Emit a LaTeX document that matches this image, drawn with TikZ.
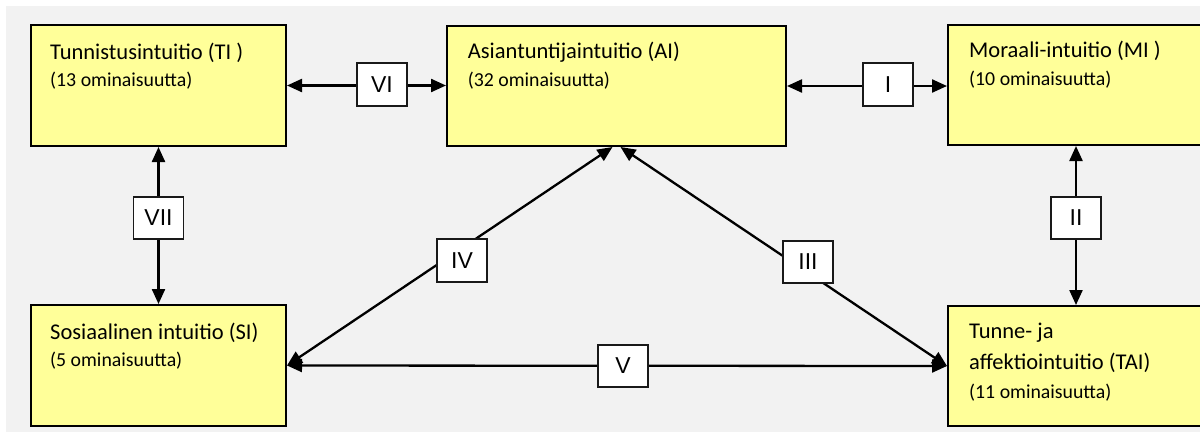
\documentclass[tikz,border=0pt]{standalone}
\usepackage{fontspec}
\setmainfont{Carlito}
\newfontfamily\lblfont{Liberation Sans}
\usetikzlibrary{arrows.meta,calc}
\definecolor{bggray}{HTML}{F2F2F2}
\definecolor{boxyellow}{HTML}{FFFF99}
\begin{document}
\begin{tikzpicture}[x=1pt,y=-1pt,
  ybox/.style={draw=black, fill=boxyellow, line width=2pt, rectangle, inner sep=0pt},
  ttl/.style={anchor=base west, inner sep=0pt, font=\fontsize{22.5}{27}\selectfont},
  sub/.style={anchor=base west, inner sep=0pt, font=\fontsize{19.8}{24}\selectfont},
  lbl/.style={draw=black!90, fill=white, line width=1.6pt, rectangle, inner sep=0pt,
    minimum width=50pt, minimum height=42.5pt, font=\lblfont\fontsize{23}{26}\selectfont},
  conn/.style={line width=2.3pt, {Triangle[length=15pt,width=13pt]}-{Triangle[length=15pt,width=13pt]}}
]
\useasboundingbox (0,0) rectangle (1200,432);
\clip (0,0) rectangle (1200,432);
\fill[bggray] (6,6) rectangle (1200,432);

% main boxes
\node[ybox, minimum width=255pt, minimum height=121pt] (TI) at (158.5,85.5) {};
\node[ybox, minimum width=339pt, minimum height=120pt] (AI) at (616.5,86) {};
\node[ybox, minimum width=267pt, minimum height=120pt] (MI) at (1081.5,85) {};
\node[ybox, minimum width=255pt, minimum height=121pt] (SI) at (158.5,365.5) {};
\node[ybox, minimum width=267pt, minimum height=120pt] (TAI) at (1081.5,366) {};

% texts
\node[ttl] (TIa) at (50,59.3) {Tunnistusintuitio (TI )};
\node[sub] (TIb) at (50,86.5) {(13 ominaisuutta)};
\node[ttl] (AIa) at (467.7,58.3) {Asiantuntijaintuitio (AI)};
\node[sub] (AIb) at (467.7,86.5) {(32 ominaisuutta)};
\node[ttl] (MIa) at (969,57.7) {Moraali-intuitio (MI )};
\node[sub] (MIb) at (969,85) {(10 ominaisuutta)};
\node[ttl] (SIa) at (50,339) {Sosiaalinen intuitio (SI)};
\node[sub] (SIb) at (50,366.7) {(5 ominaisuutta)};
\node[ttl] (TAIa) at (969,338.3) {Tunne- ja};
\node[ttl] (TAIb) at (969,369) {affektiointuitio (TAI)};
\node[sub] (TAIc) at (969,398.3) {(11 ominaisuutta)};

% label positions
\coordinate (pVI) at (382,84.5);
\coordinate (pI) at (888,84.5);
\coordinate (pVII) at (158.5,218);
\coordinate (pII) at (1076,218);
\coordinate (pIV) at (462,260.5);
\coordinate (pIII) at (808,262);
\coordinate (pV) at (623,366);

% connectors
\draw[conn] (TI.east) -- (TI.east -| AI.west);
\draw[conn] (AI.east) -- (AI.east -| MI.west);
\draw[conn] (TI.south) -- (SI.north);
\draw[conn] (pII |- MI.south) -- (pII |- TAI.north);
\draw[conn] (SI.east) -- ($(AI.south)+(-4,0)$);
\draw[conn] ($(AI.south)+(4,0)$) -- (TAI.west);
\draw[conn] (SI.east) -- (TAI.west);

% labels
\node[lbl] (VI) at (pVI) {VI};
\node[lbl] (I) at (pI) {I};
\node[lbl] (VII) at (pVII) {VII};
\node[lbl] (II) at (pII) {II};
\node[lbl] (IV) at (pIV) {IV};
\node[lbl] (III) at (pIII) {III};
\node[lbl] (V) at (pV) {V};
\end{tikzpicture}
\end{document}
